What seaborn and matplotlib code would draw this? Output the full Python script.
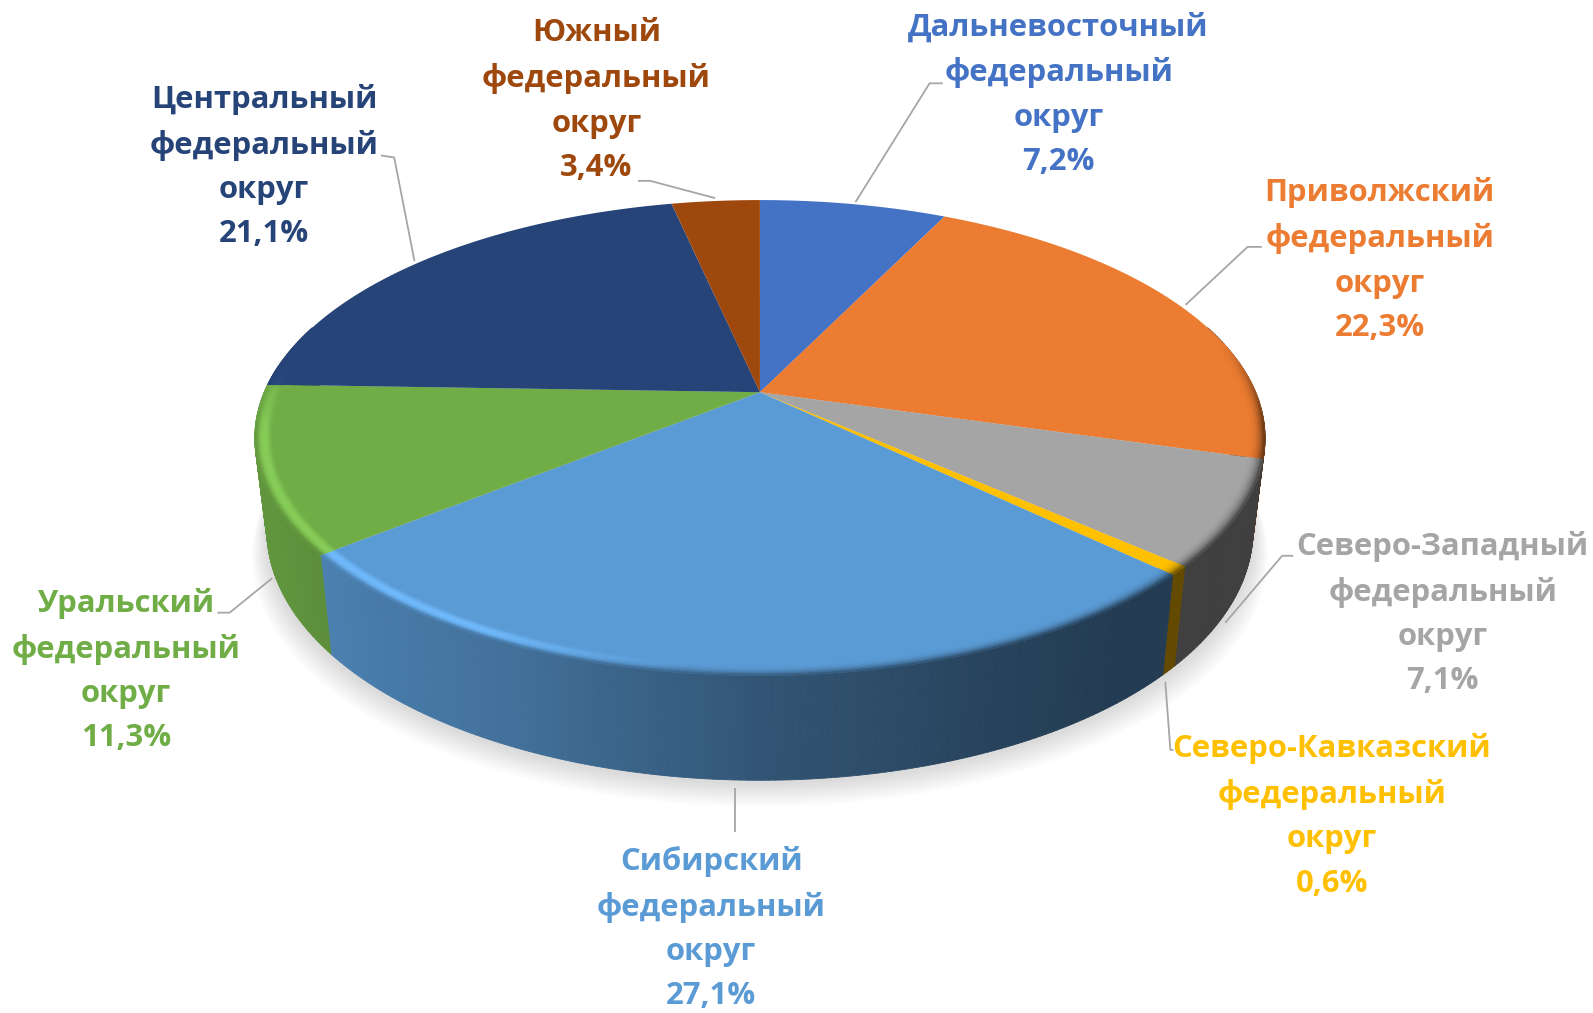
import numpy as np
import matplotlib
matplotlib.use("Agg")
import matplotlib.pyplot as plt
from matplotlib.collections import PolyCollection
from matplotlib.colors import to_rgb
from matplotlib.path import Path
import seaborn as sns

# ---- data ----
districts = ["Дальневосточный", "Приволжский", "Северо-Западный", "Северо-Кавказский",
             "Сибирский", "Уральский", "Центральный", "Южный"]
shares = [7.2, 22.3, 7.1, 0.6, 27.1, 11.3, 21.1, 3.4]
colors = ["#4472C4", "#EB7C31", "#A5A5A5", "#FFC000", "#5B9BD5", "#70AD47", "#264478", "#9E480E"]
suffix = "федеральный\nокруг"

# ---- label layout (reference pixels, 1568 wide) ----
label_xy = [(1042, 93), (1358, 256), (1420, 604), (1311, 803),
            (700, 914), (124, 660), (260, 164), (587, 99)]
leaders = [[(842, 199), (915, 82), (928, 82)],
           [(1167, 300), (1228, 243), (1242, 243)],
           [(1206, 613), (1262, 547), (1273, 547)],
           [(1147, 671), (1152, 738), (1155, 738)],
           [(723, 776), (723, 819)],
           [(268, 569), (226, 603), (214, 603)],
           [(408, 257), (388, 155), (375, 153)],
           [(704, 195), (640, 178), (628, 178)]]

sns.set_theme(style="white")
plt.rcParams["font.family"] = ["Open Sans", "DejaVu Sans"]
palette = sns.color_palette(colors)

W, H = 1568, 997
fig = plt.figure(figsize=(15.93, 10.13), dpi=100, facecolor="white")
ax = fig.add_axes([0, 0, 1, 1])

# projection of the flat pie onto the tilted disc
CX, CY, A, B, K = 748.0, 386.0, 488.0, 225.4, 0.192
DEPTH, SHRINK = 88.0, 0.976


def top(u, v):
    w = 1 + K * v
    return CX + A * u / w, CY - B * v / w


def bottom(u, v):
    x, y = top(u, v)
    return CX + (x - CX) * SHRINK, y + DEPTH + 15 * np.clip(-v, 0, 1)


def shade(u):
    return np.interp(u, [-1, -.8, -.4, 0, .4, .6, 1], [.88, .83, .72, .55, .43, .39, .38])


wedges, _ = ax.pie(shares, colors=palette, startangle=90, counterclock=False,
                   wedgeprops=dict(linewidth=0))

# soft shadow under the pie
t_all = np.radians(np.linspace(0, 360, 361))
ua, va = np.cos(t_all), np.sin(t_all)
bx, by = bottom(ua, va)
for e in np.linspace(24, 2, 12):
    px = CX + (bx - CX) * (1 + e / 800)
    py = by + 2 + e * np.where(by > 430, 1, 0.3)
    ax.fill(px, py, color="black", alpha=0.0115, lw=0, zorder=1)

# side walls and bevelled rim
walls, wall_c, rims, rim_c = [], [], [], []
BANDS = np.linspace(0.968, 1.0, 9)
for wedge, col in zip(wedges, palette):
    a1, a2 = sorted((wedge.theta1, wedge.theta2))
    n = max(3, int((a2 - a1) * 1.5))
    ang = np.radians(np.linspace(a1, a2, n + 1))
    c = np.array(to_rgb(col))
    for i in range(n):
        u0, v0, u1, v1 = np.cos(ang[i]), np.sin(ang[i]), np.cos(ang[i + 1]), np.sin(ang[i + 1])
        um, vm = (u0 + u1) / 2, (v0 + v1) / 2
        wall_col = c * shade(um)
        if vm < 0.3:
            walls.append([top(u0, v0), top(u1, v1), bottom(u1, v1), bottom(u0, v0)])
            wall_c.append(wall_col)
        # rim
        weight = np.clip((0.22 - vm) / 0.35, 0, 1) if um > 0 else np.clip((0.12 - vm) / 0.3, 0, 1)
        if weight <= 0:
            continue
        light = np.clip((-0.12 - um) / 0.35, 0, 1)
        hi = np.minimum(c * 1.15 + 0.03, 1)
        for j in range(len(BANDS) - 1):
            r0, r1 = BANDS[j], BANDS[j + 1]
            s = (j + 0.5) / (len(BANDS) - 1)
            # highlight peaks inside the band, shadow deepens to the edge
            lit = np.sin(np.pi * min(s * 1.15, 1))
            lit_col = c + (hi - c) * lit
            lit_col = lit_col + (wall_col - lit_col) * max(0, (s - 0.75) / 0.25)
            dark_col = c + (wall_col - c) * (s ** 2.6)
            target = lit_col * light + dark_col * (1 - light)
            rc = c + (target - c) * weight
            rims.append([top(r0 * u0, r0 * v0), top(r0 * u1, r0 * v1),
                         top(r1 * u1, r1 * v1), top(r1 * u0, r1 * v0)])
            rim_c.append(rc)

    # top face: the pie wedge itself, carried through the projection
    polyu = np.r_[0, np.cos(np.radians(np.linspace(a1, a2, n * 2 + 1))), 0]
    polyv = np.r_[0, np.sin(np.radians(np.linspace(a1, a2, n * 2 + 1))), 0]
    px, py = top(polyu, polyv)
    wedge._path = Path(np.c_[px, py], closed=True)
    wedge.set_zorder(3)

ax.add_collection(PolyCollection(walls, facecolors=wall_c, edgecolors=wall_c, linewidths=0.6, zorder=2))
ax.add_collection(PolyCollection(rims, facecolors=rim_c, edgecolors=rim_c, linewidths=0.4, zorder=4))

# leader lines and labels
for pts in leaders:
    xs, ys = zip(*pts)
    ax.plot(xs, ys, color="#A6A6A6", lw=1.3, solid_capstyle="butt", zorder=5)

for name, val, col, (x, y) in zip(districts, shares, palette, label_xy):
    text = f"{name}\n{suffix}\n{val:.1f}%".replace(".", ",")
    ax.text(x, y, text, color=col, ha="center", va="center", ma="center",
            fontsize=22.3, fontweight="bold", linespacing=1.62, zorder=6)

ax.set_xlim(0, W)
ax.set_ylim(H, 0)
ax.set_aspect("auto")
ax.axis("off")
fig.savefig("out.png", dpi=100)
